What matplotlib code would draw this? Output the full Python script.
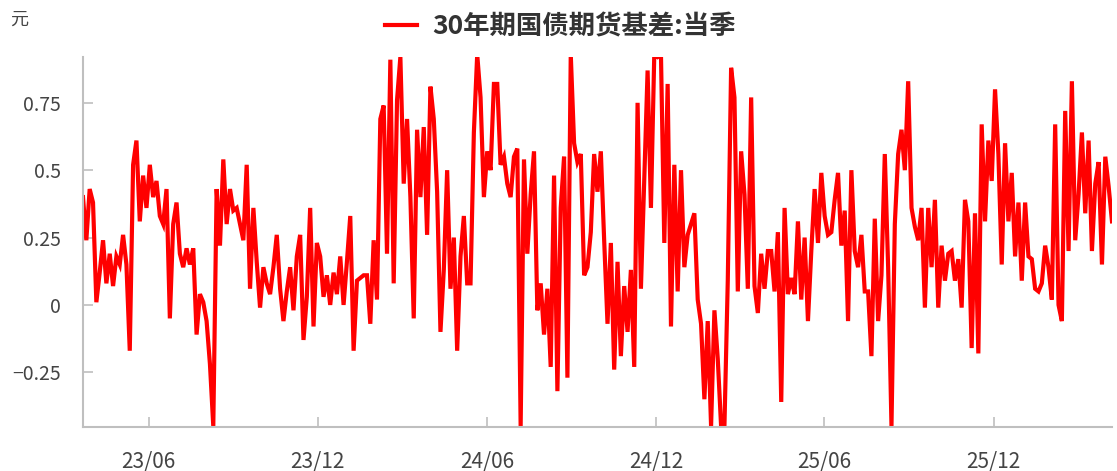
import pandas as pd
import matplotlib
matplotlib.use("Agg")
import matplotlib.pyplot as plt
import matplotlib.dates as mdates

plt.rcParams['font.family'] = ['Noto Sans CJK SC', 'DejaVu Sans']

# ---------------------------------------------------------
# 数据: 30年期国债期货基差(当季), 元 — 近似值
# ---------------------------------------------------------
start_date = '2023-03-22'
end_date = '2026-04-08'

basis_2023a = [0.40, 0.24, 0.43, 0.38, 0.01, 0.12, 0.24, 0.08, 0.19, 0.07,
               0.18, 0.15, 0.26, 0.15, -0.17, 0.52, 0.61, 0.31, 0.48, 0.36,
               0.52, 0.40, 0.46, 0.33, 0.30, 0.43, -0.05, 0.30, 0.38, 0.19,
               0.14, 0.21, 0.15, 0.21, -0.11, 0.04, 0.01, -0.06, -0.22, -0.45,
               0.43, 0.22, 0.54, 0.30, 0.43, 0.35, 0.36, 0.30, 0.24, 0.52,
               0.06, 0.36, 0.16, -0.01, 0.14, 0.08, 0.04, 0.14, 0.26, 0.06,
               -0.06, 0.05]
basis_2023b = [0.14, -0.02, 0.18, 0.26, -0.13, 0.03, 0.36, -0.08, 0.23, 0.18,
               0.03, 0.11, 0.00, 0.12, 0.04, 0.18, 0.00, 0.16, 0.33, -0.17,
               0.09, 0.10, 0.11, 0.11, -0.07, 0.24, 0.02, 0.69, 0.74, 0.19,
               0.91, 0.08, 0.76, 0.92, 0.45, 0.69, 0.40, -0.05, 0.65, 0.40,
               0.66, 0.26, 0.81, 0.69, 0.42, -0.10, 0.13, 0.50, 0.06, 0.25,
               -0.17, 0.18, 0.33, 0.08, 0.08, 0.64, 0.93, 0.77, 0.40, 0.57,
               0.50, 0.82]
basis_2024a = [0.82, 0.52, 0.55, 0.45, 0.40, 0.55, 0.58, -0.45, 0.54, 0.19,
               0.41, 0.57, -0.02, 0.08, -0.11, 0.06, -0.23, 0.48, -0.32, 0.36,
               0.55, -0.27, 0.93, 0.60, 0.53, 0.56, 0.11, 0.14, 0.27, 0.56,
               0.42, 0.57, 0.24, -0.07, 0.23, -0.24, 0.16, -0.19, 0.07, -0.10,
               0.13, -0.23, 0.75, 0.06, 0.46, 0.87, 0.36, 0.93, 0.92, 0.93,
               0.23, 0.82, -0.08, 0.52, 0.05, 0.50, 0.14, 0.26, 0.30, 0.34,
               0.02, -0.07]
basis_2025a = [-0.35, -0.06, -0.45, -0.02, -0.20, -0.45, -0.45, 0.09, 0.88, 0.77,
               0.05, 0.57, 0.41, 0.06, 0.77, 0.07, -0.03, 0.19, 0.06, 0.20,
               0.20, 0.05, 0.27, -0.36, 0.36, 0.04, 0.10, 0.04, 0.31, 0.02,
               0.25, -0.06, 0.20, 0.43, 0.23, 0.49, 0.33, 0.26, 0.27, 0.39,
               0.49, 0.22, 0.35, -0.06, 0.50, 0.20, 0.14, 0.26, 0.05, 0.05,
               -0.19, 0.32, -0.06, 0.11, 0.56, 0.14, -0.45, 0.30, 0.56, 0.65,
               0.50, 0.83]
basis_2025b = [0.36, 0.29, 0.24, 0.36, -0.01, 0.36, 0.14, 0.39, -0.01, 0.22,
               0.09, 0.19, 0.20, 0.09, 0.17, -0.01, 0.39, 0.31, -0.16, 0.34,
               -0.18, 0.67, 0.31, 0.61, 0.46, 0.80, 0.56, 0.15, 0.60, 0.31,
               0.49, 0.18, 0.38, 0.09, 0.38, 0.18, 0.17, 0.06, 0.05, 0.08,
               0.22, 0.14, 0.02, 0.67, 0.00, -0.06, 0.72, 0.20, 0.83, 0.24,
               0.41, 0.64, 0.34, 0.61, 0.20, 0.45, 0.53, 0.15, 0.55, 0.44,
               0.31]

y_ticks = [-0.25, 0, 0.25, 0.5, 0.75]
y_tick_labels = ['\u22120.25', '0', '0.25', '0.5', '0.75']
x_ticks = ['2023-06-01', '2023-12-01', '2024-06-01', '2024-12-01', '2025-06-01', '2025-12-01']
series_name = '30年期国债期货基差:当季'

basis = basis_2023a + basis_2023b + basis_2024a + basis_2025a + basis_2025b
fechas = pd.date_range(start_date, end_date, periods=len(basis))
df = pd.DataFrame({'fecha': fechas, 'basis': basis})

# ---------------------------------------------------------
# Gráfica
# ---------------------------------------------------------
fig = plt.figure(figsize=(11.17, 4.71), dpi=100)
ax = fig.add_axes([0.0743, 0.0934, 0.9212, 0.7856])

ax.plot(df['fecha'], df['basis'], color='#ff0000', linewidth=3.0,
        solid_joinstyle='miter', label=series_name)

ax.set_xlim(df['fecha'].iloc[0], df['fecha'].iloc[-1])
ax.set_ylim(-0.453, 0.92)
ax.set_yticks(y_ticks)
ax.set_yticklabels(y_tick_labels)
ax.set_xticks(pd.to_datetime(x_ticks))
ax.xaxis.set_major_formatter(mdates.DateFormatter('%y/%m'))

for lado in ['top', 'right']:
    ax.spines[lado].set_visible(False)
for lado in ['left', 'bottom']:
    ax.spines[lado].set_color('#bfbfbf')
    ax.spines[lado].set_linewidth(1.5)

ax.tick_params(axis='both', direction='in', length=7, width=1.2, color='#bfbfbf',
               labelcolor='#444444', labelsize=14)
ax.tick_params(axis='y', pad=16)
ax.tick_params(axis='x', pad=17, labelsize=15)

fig.text(0.017, 0.958, '元', fontsize=13, color='#444444', ha='center', va='center')

leg = fig.legend(loc='center', bbox_to_anchor=(0.502, 0.943), frameon=False,
                 fontsize=19, handlelength=1.2, handletextpad=0.6)
for t in leg.get_texts():
    t.set_color('#333333')
    t.set_fontweight('bold')

plt.savefig('out.png', dpi=100)
